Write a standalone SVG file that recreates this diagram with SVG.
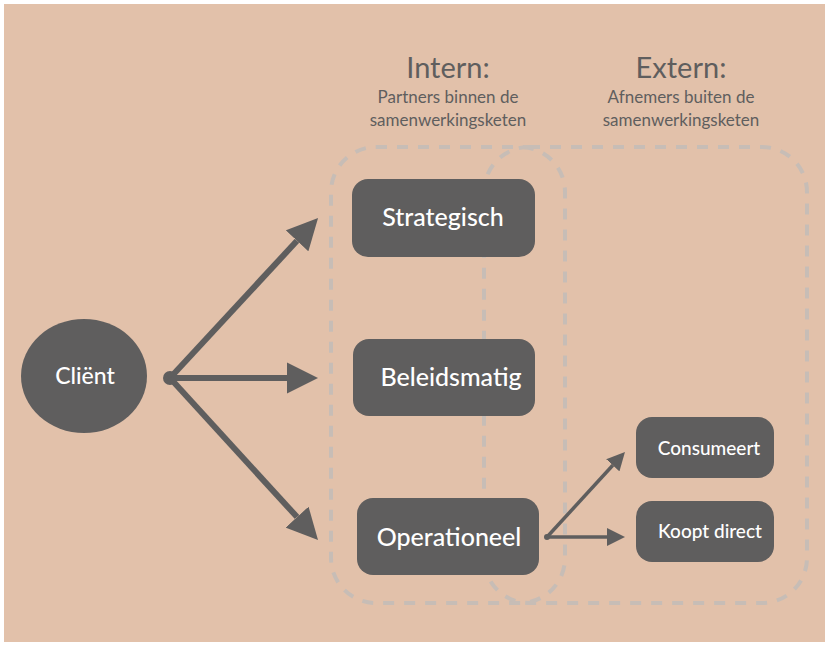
<svg xmlns="http://www.w3.org/2000/svg" width="825" height="647" viewBox="0 0 825 647">
  <defs>
    <style>
      .node { fill: #5f5e5e; }
      .label { fill: #ffffff; font-family: Lato, "Open Sans", "Liberation Sans", sans-serif; font-weight: 500; text-anchor: middle; }
      .head { fill: #5f5e5e; font-family: Lato, "Open Sans", "Liberation Sans", sans-serif; text-anchor: middle; }
      .zone { fill: none; stroke: #c7bdb6; stroke-width: 4; stroke-dasharray: 11 10; }
      .edge { stroke: #5f5e5e; fill: none; }
    </style>
    <!-- arrowheads start at the line end and reach forward to the tip -->
    <marker id="big" viewBox="0 0 10 10" refX="0" refY="5" markerUnits="userSpaceOnUse" markerWidth="31" markerHeight="32" orient="auto">
      <path d="M0,0 L10,5 L0,10 Z" fill="#5f5e5e"/>
    </marker>
    <marker id="small" viewBox="0 0 10 10" refX="0" refY="5" markerUnits="userSpaceOnUse" markerWidth="18" markerHeight="19" orient="auto">
      <path d="M0,0 L10,5 L0,10 Z" fill="#5f5e5e"/>
    </marker>
  </defs>

  <rect x="0" y="0" width="825" height="647" fill="#ffffff"/>
  <rect x="4" y="4" width="821" height="638" fill="#e2c1aa"/>

  <!-- column headings -->
  <g id="heading-intern">
    <text class="head" x="448" y="78" font-size="29">Intern:</text>
    <text class="head" x="448" y="103" font-size="17">Partners binnen de</text>
    <text class="head" x="448" y="126" font-size="17">samenwerkingsketen</text>
  </g>
  <g id="heading-extern">
    <text class="head" x="681" y="78" font-size="29">Extern:</text>
    <text class="head" x="681" y="103" font-size="17">Afnemers buiten de</text>
    <text class="head" x="681" y="126" font-size="17">samenwerkingsketen</text>
  </g>

  <!-- dashed zones -->
  <g id="zones">
    <rect id="zone-intern" class="zone" x="331" y="147" width="234" height="456" rx="45"/>
    <rect id="zone-extern" class="zone" x="484" y="147" width="323" height="456" rx="45"/>
  </g>

  <!-- connectors -->
  <g id="connectors">
    <circle cx="170" cy="378" r="7" fill="#5f5e5e"/>
    <line class="edge" stroke-width="6" x1="170" y1="378" x2="297" y2="240.8" marker-end="url(#big)"/>
    <line class="edge" stroke-width="6" x1="170" y1="378" x2="287" y2="378" marker-end="url(#big)"/>
    <line class="edge" stroke-width="6" x1="170" y1="378" x2="297.1" y2="517.1" marker-end="url(#big)"/>
    <circle cx="547" cy="537" r="3" fill="#5f5e5e"/>
    <line class="edge" stroke-width="3.5" x1="547" y1="537" x2="612.8" y2="465.3" marker-end="url(#small)"/>
    <line class="edge" stroke-width="3.5" x1="547" y1="537" x2="607" y2="537" marker-end="url(#small)"/>
  </g>

  <!-- nodes -->
  <g id="client">
    <ellipse class="node" cx="84" cy="376" rx="63" ry="57"/>
    <text class="label" x="85" y="384" font-size="23">Cliënt</text>
  </g>
  <g id="strategisch">
    <rect class="node" x="352" y="179" width="183" height="78" rx="16"/>
    <text class="label" x="443" y="226" font-size="25">Strategisch</text>
  </g>
  <g id="beleidsmatig">
    <rect class="node" x="353" y="339" width="182" height="77" rx="16"/>
    <text class="label" x="451" y="386" font-size="25">Beleidsmatig</text>
  </g>
  <g id="operationeel">
    <rect class="node" x="357" y="498" width="182" height="77" rx="16"/>
    <text class="label" x="449" y="546" font-size="25">Operationeel</text>
  </g>
  <g id="consumeert">
    <rect class="node" x="636" y="417" width="138" height="61" rx="16"/>
    <text class="label" x="709" y="455" font-size="19">Consumeert</text>
  </g>
  <g id="koopt-direct">
    <rect class="node" x="636" y="501" width="138" height="61" rx="16"/>
    <text class="label" x="710" y="538" font-size="19">Koopt direct</text>
  </g>
</svg>
